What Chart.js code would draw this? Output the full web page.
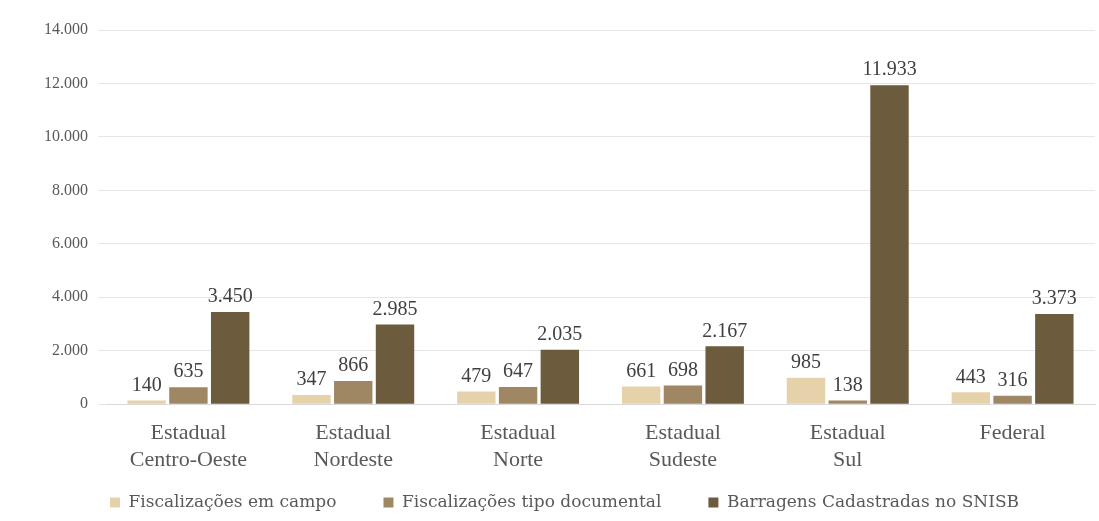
<!DOCTYPE html>
<html>
<head>
<meta charset="utf-8">
<script src="https://cdn.jsdelivr.net/npm/chart.js@4/dist/chart.umd.min.js"></script>
<style>
  html, body { margin: 0; padding: 0; background: #fff; }
  #wrap { width: 1099px; height: 521px; }
</style>
</head>
<body>
<div id="wrap"><canvas id="chart"></canvas></div>
<script>
const categories = [
  ['Estadual', 'Centro-Oeste'],
  ['Estadual', 'Nordeste'],
  ['Estadual', 'Norte'],
  ['Estadual', 'Sudeste'],
  ['Estadual', 'Sul'],
  ['Federal']
];
const fiscalizacoesCampo = [140, 347, 479, 661, 985, 443];
const fiscalizacoesDocumental = [635, 866, 647, 698, 138, 316];
const barragensSnisb = [3450, 2985, 2035, 2167, 11933, 3373];
const seriesNames = ['Fiscalizações em campo', 'Fiscalizações tipo documental', 'Barragens Cadastradas no SNISB'];

const fmt = v => v.toLocaleString('de-DE');
const serif = '"Liberation Serif", "DejaVu Serif", serif';

// draws the value above each bar
const valueLabels = {
  id: 'valueLabels',
  afterDatasetsDraw(chart) {
    const ctx = chart.ctx;
    ctx.save();
    ctx.font = '20px ' + serif;
    ctx.fillStyle = '#404040';
    ctx.textAlign = 'center';
    ctx.textBaseline = 'bottom';
    chart.data.datasets.forEach((ds, i) => {
      chart.getDatasetMeta(i).data.forEach((bar, j) => {
        ctx.fillText(fmt(ds.data[j]), bar.x, bar.y - 5);
      });
    });
    ctx.restore();
  }
};

new Chart(document.getElementById('chart'), {
  type: 'bar',
  data: {
    labels: categories,
    datasets: [
      { label: seriesNames[0], data: fiscalizacoesCampo, backgroundColor: '#E6D2AA' },
      { label: seriesNames[1], data: fiscalizacoesDocumental, backgroundColor: '#A08763' },
      { label: seriesNames[2], data: barragensSnisb, backgroundColor: '#6C5B3D' }
    ]
  },
  options: {
    responsive: true,
    maintainAspectRatio: false,
    animation: false,
    layout: { padding: { left: 34, right: 4, top: 30, bottom: 0 } },
    datasets: { bar: { categoryPercentage: 0.76, barPercentage: 0.92 } },
    scales: {
      x: {
        grid: { display: false },
        border: { color: '#d9d9d9' },
        ticks: { color: '#595959', font: { family: serif, size: 22 }, padding: 8, maxRotation: 0 }
      },
      y: {
        min: 0,
        max: 14000,
        border: { display: false },
        grid: { color: '#e6e6e6' },
        ticks: {
          stepSize: 2000,
          color: '#595959',
          padding: 10,
          font: { family: serif, size: 16 },
          callback: v => fmt(v)
        }
      }
    },
    plugins: {
      legend: {
        position: 'bottom',
        labels: {
          boxWidth: 10,
          boxHeight: 10,
          padding: 13,
          color: '#595959',
          font: { family: '"DejaVu Serif", serif', size: 17 },
          generateLabels(chart) {
            const items = Chart.defaults.plugins.legend.labels.generateLabels(chart);
            items.forEach((it, i) => { if (i < items.length - 1) it.text += '\u2003\u2003'; });
            return items;
          }
        }
      },
      tooltip: { enabled: false }
    }
  },
  plugins: [valueLabels]
});
</script>
</body>
</html>
